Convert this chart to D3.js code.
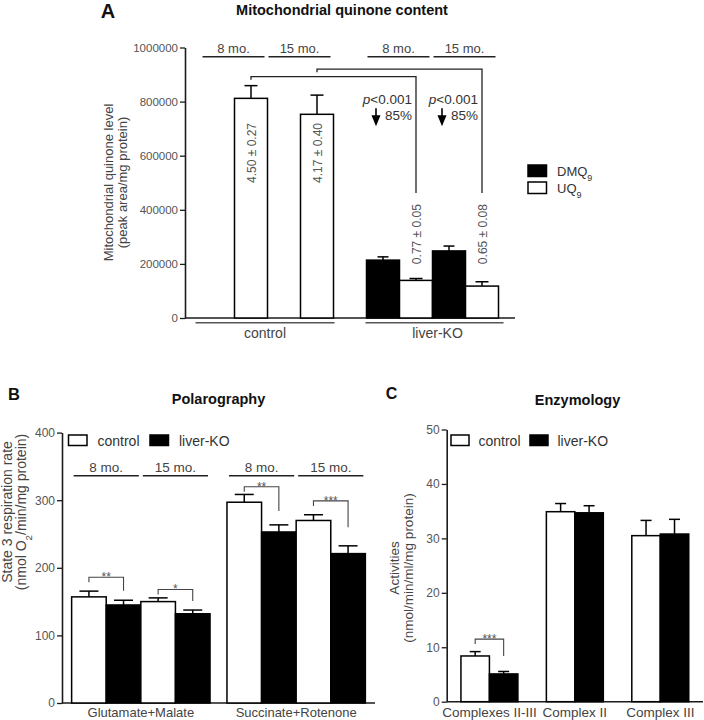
<!DOCTYPE html>
<html><head><meta charset="utf-8">
<script src="https://cdn.jsdelivr.net/npm/d3@7"></script>
<style>
body{margin:0;background:#fff}
svg{display:block;font-family:"Liberation Sans",Arial,Helvetica,sans-serif}
</style>
</head><body>
<svg id="chart" width="704" height="720"></svg>
<script>
// ---------------- DATA ----------------
// Panel A – mitochondrial quinone content
const quinoneGroups = ["control", "liver-KO"];
const quinoneAges = ["8 mo.", "15 mo."];
const quinoneSeries = ["DMQ9", "UQ9"];
const dmq9Values = [0, 0, 214000, 248000];      // control 8, control 15, KO 8, KO 15
const dmq9Errors = [0, 0, 12000, 18000];
const uq9Values = [812000, 753000, 139000, 118000];
const uq9Errors = [47000, 71000, 7000, 16000];
const uq9Ratios = ["4.50 ± 0.27", "4.17 ± 0.40", "0.77 ± 0.05", "0.65 ± 0.08"];
const uq9RatioLevels = [610000, 610000, 310000, 310000];
const uqCompareLevels = [892000, 920000];
const uqCompareEnds = [462000, 462000];
const quinoneTicks = [0, 200000, 400000, 600000, 800000, 1000000];

// Panel B – polarography
const substrates = ["Glutamate+Malate", "Succinate+Rotenone"];
const respAges = ["8 mo.", "15 mo."];
const conditions = ["control", "liver-KO"];
const respControl = [157, 150, 297, 270];      // GM 8, GM 15, SR 8, SR 15
const respControlErr = [8.5, 5.5, 11.5, 8.5];
const respKO = [145, 132, 253, 221];
const respKOErr = [7, 5.5, 10.5, 11.5];
const respStars = ["**", "*", "**", "***"];
const respStarLevels = [186, 168, 320, 299];
const respStarEnds = [166, 151, 284, 260];
const respTicks = [0, 100, 200, 300, 400];

// Panel C – enzymology
const enzymes = ["Complexes II-III", "Complex II", "Complex III"];
const enzControl = [8.4, 34.9, 30.5];
const enzControlErr = [0.8, 1.5, 2.8];
const enzKO = [5.1, 34.7, 30.8];
const enzKOErr = [0.45, 1.3, 2.7];
const enzStars = ["***", "", ""];
const enzStarLevels = [11.5, 0, 0];
const enzStarEnds = [8.4, 0, 0];
const enzTicks = [0, 10, 20, 30, 40, 50];

// ---------------- HELPERS ----------------
const svg = d3.select("#chart");
const INK = "#1b1b1b", TICK_TXT = "#555", LABEL = "#444";

function yAxis(scale, x, ticks, fontSize) {
  const g = svg.append("g").attr("transform", `translate(${x},0)`)
    .call(d3.axisLeft(scale).tickValues(ticks).tickFormat(d3.format("d"))
      .tickSize(5).tickSizeOuter(0).tickPadding(2));
  g.attr("font-family", null).attr("font-size", null);
  g.select(".domain").attr("stroke", INK).attr("stroke-width", 1.6);
  g.selectAll(".tick line").attr("stroke", INK).attr("stroke-width", 1.3);
  g.selectAll(".tick text").attr("fill", TICK_TXT).style("font-size", fontSize + "px");
  return g;
}
function hLine(x1, x2, y, color, w) {
  svg.append("line").attr("x1", x1).attr("x2", x2).attr("y1", y).attr("y2", y)
    .attr("stroke", color || INK).attr("stroke-width", w || 1.6);
}
function bar(x, w, yTop, yBase, black) {
  svg.append("rect").attr("x", x).attr("y", yTop).attr("width", w).attr("height", yBase - yTop)
    .attr("fill", black ? "#000" : "#fff").attr("stroke", "#000").attr("stroke-width", 1.5);
}
function errBar(cx, yv, ye, cap) {
  svg.append("line").attr("x1", cx).attr("x2", cx).attr("y1", yv).attr("y2", ye)
    .attr("stroke", "#000").attr("stroke-width", 1.5);
  svg.append("line").attr("x1", cx - cap / 2).attr("x2", cx + cap / 2).attr("y1", ye).attr("y2", ye)
    .attr("stroke", "#000").attr("stroke-width", 1.5);
}
function text(x, y, str, opts) {
  opts = opts || {};
  return svg.append("text").attr("x", x).attr("y", y).text(str)
    .attr("text-anchor", opts.anchor || "middle")
    .attr("fill", opts.fill || LABEL)
    .style("font-size", (opts.size || 13) + "px")
    .style("font-weight", opts.bold ? "bold" : "normal");
}
function rotLabel(cx, cy, lines, size, gap) {
  lines.forEach((ln, i) => {
    const x = cx + (i - (lines.length - 1) / 2) * gap;
    const t = svg.append("text").attr("transform", `translate(${x},${cy}) rotate(-90)`)
      .attr("text-anchor", "middle").attr("dy", "0.35em").attr("fill", LABEL)
      .style("font-size", size + "px");
    ln.forEach(part => {
      const ts = t.append("tspan").text(part.t);
      if (part.sub) ts.attr("baseline-shift", "sub").style("font-size", (size * 0.7) + "px");
    });
  });
}
function sigBracket(x1, x2, yTop, yEnd, stars) {
  svg.append("path").attr("d", `M${x1},${yTop + 5}V${yTop}H${x2}V${yEnd}`)
    .attr("fill", "none").attr("stroke", "#444").attr("stroke-width", 1.1);
  text((x1 + x2) / 2, yTop + 4, stars, {size: 12, fill: "#555"});
}

// ---------------- PANEL A ----------------
const yA = d3.scaleLinear().domain([0, 1000000]).range([318, 47.5]);
const slotKeysA = [];
quinoneGroups.forEach((g, gi) => {
  quinoneAges.forEach(a => slotKeysA.push(`${g}|${a}|DMQ9`, `${g}|${a}|UQ9`));
  if (gi < quinoneGroups.length - 1) slotKeysA.push("gap" + gi);
});
const xA = d3.scaleBand().domain(slotKeysA).range([185, 515]).paddingInner(0).paddingOuter(0.5);
const bwA = xA.bandwidth();
const keyA = (i, s) => `${quinoneGroups[Math.floor(i / 2)]}|${quinoneAges[i % 2]}|${s}`;

text(108, 18, "A", {size: 20, bold: true, fill: "#111"});
text(342, 14.5, "Mitochondrial quinone content", {size: 14.5, bold: true, fill: "#111"});

yAxis(yA, 185, quinoneTicks, 11.5);
hLine(185, 515, yA(0));

uq9Values.forEach((v, i) => {
  const d = dmq9Values[i];
  if (d > 0) {
    const x = xA(keyA(i, "DMQ9"));
    bar(x, bwA, yA(d), yA(0), true);
    errBar(x + bwA / 2, yA(d), yA(d + dmq9Errors[i]), 11);
  }
  const x = xA(keyA(i, "UQ9"));
  bar(x, bwA, yA(v), yA(0), false);
  errBar(x + bwA / 2, yA(v), yA(v + uq9Errors[i]), 13);
  svg.append("text").attr("transform", `translate(${x + bwA / 2 + 1},${yA(uq9RatioLevels[i])}) rotate(-90)`)
    .attr("text-anchor", "middle").attr("dy", "0.35em").attr("fill", "#555")
    .style("font-size", "12px").text(uq9Ratios[i]);
});

// comparison brackets control -> liver-KO (UQ9)
quinoneAges.forEach((a, k) => {
  const x1 = xA(keyA(k, "UQ9")) + bwA / 2;
  const x2 = xA(keyA(2 + k, "UQ9")) + bwA / 2;
  const yt = yA(uqCompareLevels[k]);
  svg.append("path").attr("d", `M${x1},${yt + 3}V${yt}H${x2}V${yA(uqCompareEnds[k])}`)
    .attr("fill", "none").attr("stroke", "#222").attr("stroke-width", 1.3);
  const tp = svg.append("text").attr("x", x2 - 4).attr("y", yA(790000)).attr("text-anchor", "end")
    .attr("fill", "#333").style("font-size", "13.5px");
  tp.append("tspan").style("font-style", "italic").text("p");
  tp.append("tspan").text("<0.001");
  text(x2 - 4, yA(733000), "85%", {anchor: "end", size: 13.5, fill: "#333"});
  const ax = x2 - 40, ay = yA(790000) + 4;
  svg.append("line").attr("x1", ax).attr("x2", ax).attr("y1", ay).attr("y2", ay + 9)
    .attr("stroke", "#000").attr("stroke-width", 1.6);
  svg.append("path").attr("d", `M${ax - 4.5},${ay + 7}L${ax + 4.5},${ay + 7}L${ax},${ay + 18}Z`).attr("fill", "#000");
});

// age lines on top
quinoneGroups.forEach((g, gi) => quinoneAges.forEach((a, ai) => {
  const x1 = xA(`${g}|${a}|DMQ9`) + 1, x2 = xA(`${g}|${a}|UQ9`) + bwA - 3;
  hLine(x1, x2, yA(966000), "#222", 1.5);
  text((x1 + x2) / 2, yA(966000) - 3.5, a, {size: 13, fill: "#444"});
}));
// group lines bottom
quinoneGroups.forEach((g, gi) => {
  const x1 = xA(`${g}|${quinoneAges[0]}|DMQ9`) - (gi === 0 ? 6 : 1);
  const x2 = xA(`${g}|${quinoneAges[1]}|UQ9`) + bwA + (gi === 0 ? 1 : 5);
  hLine(x1, x2, yA(0) + 4.7, "#555", 1.6);
  text((x1 + x2) / 2 + (gi === 0 ? 0 : 3), yA(0) + 20, g, {size: 14, fill: "#444"});
});
rotLabel(115.5, 182.5, [[{t: "Mitochondrial quinone level"}], [{t: "(peak area/mg protein)"}]], 13, 14);

// legend A
quinoneSeries.forEach((s, i) => {
  const y = 165 + i * 17;
  svg.append("rect").attr("x", 528).attr("y", y).attr("width", 18.5).attr("height", 11.5)
    .attr("fill", i === 0 ? "#000" : "#fff").attr("stroke", "#000").attr("stroke-width", 1.5);
  const t = svg.append("text").attr("x", 557).attr("y", y + 11).attr("fill", "#333").style("font-size", "13px");
  t.append("tspan").text(s.slice(0, -1));
  t.append("tspan").attr("baseline-shift", "sub").style("font-size", "9px").text(s.slice(-1));
});

// ---------------- PANEL B ----------------
const yB = d3.scaleLinear().domain([0, 400]).range([703, 432.6]);
const xB = d3.scaleBand().domain(substrates).range([62, 375]).paddingInner(0.109).paddingOuter(0.062);
const innerKeys = [];
respAges.forEach(a => conditions.forEach(c => innerKeys.push(`${a}|${c}`)));
const xBi = d3.scaleBand().domain(innerKeys).range([0, xB.bandwidth()]);
const bwB = xBi.bandwidth();

text(14, 400, "B", {size: 16.5, bold: true, fill: "#111"});
text(218.5, 403.5, "Polarography", {size: 14.5, bold: true, fill: "#111"});
yAxis(yB, 62, respTicks, 12);
hLine(62, 375, yB(0));

substrates.forEach((s, si) => respAges.forEach((a, ai) => {
  const idx = si * 2 + ai;
  const xc = xB(s) + xBi(`${a}|control`), xk = xB(s) + xBi(`${a}|liver-KO`);
  bar(xc, bwB, yB(respControl[idx]), yB(0), false);
  bar(xk, bwB, yB(respKO[idx]), yB(0), true);
  errBar(xc + bwB / 2, yB(respControl[idx]), yB(respControl[idx] + respControlErr[idx]), 19);
  errBar(xk + bwB / 2, yB(respKO[idx]), yB(respKO[idx] + respKOErr[idx]), 19);
  sigBracket(xc + bwB / 2, xk + bwB / 2, yB(respStarLevels[idx]), yB(respStarEnds[idx]), respStars[idx]);
  const l1 = xc + 2, l2 = xk + bwB - 2;
  hLine(l1, l2, yB(336), "#222", 1.5);
  text((l1 + l2) / 2, yB(336) - 4, a, {size: 13.5, fill: "#444"});
}));
substrates.forEach(s => text(xB(s) + xB.bandwidth() / 2, 717, s, {size: 13, fill: "#444"}));
rotLabel(14.5, 512, [[{t: "State 3 respiration rate"}], [{t: "(nmol O"}, {t: "2", sub: true}, {t: "/min/mg protein)"}]], 14, 14);

// legend B
conditions.forEach((c, i) => {
  const x = [68.5, 150][i];
  svg.append("rect").attr("x", x).attr("y", 435).attr("width", 18.5).attr("height", 10.5)
    .attr("fill", i === 0 ? "#fff" : "#000").attr("stroke", "#000").attr("stroke-width", 1.5);
  text(x + 29, 445.5, c, {anchor: "start", size: 14, fill: "#333"});
});

// ---------------- PANEL C ----------------
const yC = d3.scaleLinear().domain([0, 50]).range([701.7, 429.5]);
const xC = d3.scaleBand().domain(enzymes).range([446.7, 703]).paddingInner(1 / 3).paddingOuter(1 / 6);
const xCi = d3.scaleBand().domain(conditions).range([0, xC.bandwidth()]);
const bwC = xCi.bandwidth();

text(391.5, 398.5, "C", {size: 16, bold: true, fill: "#111"});
text(577.5, 405, "Enzymology", {size: 14.5, bold: true, fill: "#111"});
yAxis(yC, 446.7, enzTicks, 12);
hLine(446.7, 703, yC(0));

enzymes.forEach((e, i) => {
  const xc = xC(e) + xCi("control"), xk = xC(e) + xCi("liver-KO");
  bar(xc, bwC, yC(enzControl[i]), yC(0), false);
  bar(xk, bwC, yC(enzKO[i]), yC(0), true);
  errBar(xc + bwC / 2, yC(enzControl[i]), yC(enzControl[i] + enzControlErr[i]), 11);
  errBar(xk + bwC / 2, yC(enzKO[i]), yC(enzKO[i] + enzKOErr[i]), 11);
  if (enzStars[i]) sigBracket(xc + bwC / 2, xk + bwC / 2, yC(enzStarLevels[i]), yC(enzStarEnds[i]), enzStars[i]);
  text(xC(e) + xC.bandwidth() / 2, 716.5, e, {size: 13.5, fill: "#444"});
});
rotLabel(401.5, 568, [[{t: "Activities"}], [{t: "(nmol/min/ml/mg protein)"}]], 13.5, 14);

// legend C
conditions.forEach((c, i) => {
  const x = [451, 530][i];
  svg.append("rect").attr("x", x).attr("y", 435).attr("width", 18).attr("height", 10.5)
    .attr("fill", i === 0 ? "#fff" : "#000").attr("stroke", "#000").attr("stroke-width", 1.5);
  text(x + 27.5, 445.5, c, {anchor: "start", size: 14, fill: "#333"});
});
</script>
</body></html>
